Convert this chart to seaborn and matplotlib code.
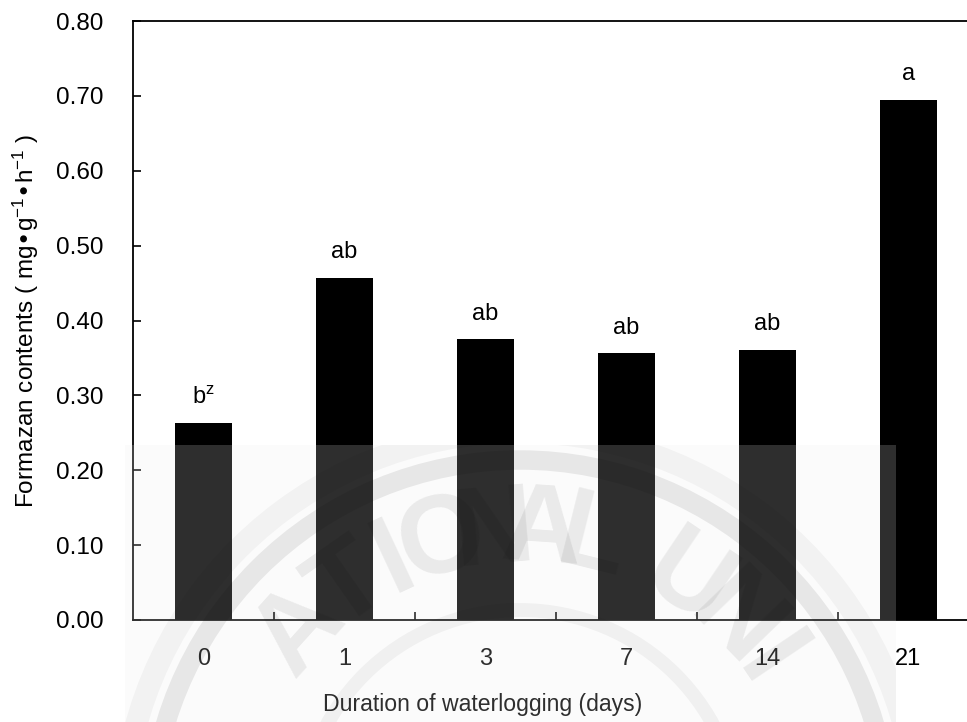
import numpy as np
import pandas as pd
import seaborn as sns
import matplotlib.pyplot as plt
from matplotlib.patches import Rectangle, Circle
from matplotlib.transforms import Bbox, TransformedBbox
from matplotlib.ticker import FixedLocator, FormatStrFormatter

# Formazan contents after each waterlogging duration
days = ["0", "1", "3", "7", "14", "21"]
formazan = [0.263, 0.457, 0.375, 0.356, 0.361, 0.695]
groups = ["b$^{z}$", "ab", "ab", "ab", "ab", "a"]
y_ticks = [0.0, 0.1, 0.2, 0.3, 0.4, 0.5, 0.6, 0.7, 0.8]

sns.set_theme(style="ticks")
plt.rcParams["font.family"] = ["Liberation Sans", "DejaVu Sans"]
plt.rcParams["mathtext.default"] = "regular"

W, H = 967, 722
fig = plt.figure(figsize=(W / 100, H / 100), dpi=100)
ax = fig.add_axes([133 / W, 1 - 620 / H, 846 / W, 599 / H])

df = pd.DataFrame({"day": days, "formazan": formazan})
sns.barplot(data=df, x="day", y="formazan", order=days, color="black",
            saturation=1, width=0.41, linewidth=0, errorbar=None, ax=ax)

ax.set_xlim(-0.5, 5.5)
ax.set_ylim(0, 0.8)
ax.yaxis.set_major_locator(FixedLocator(y_ticks))
ax.yaxis.set_major_formatter(FormatStrFormatter("%.2f"))
ax.xaxis.set_minor_locator(FixedLocator(np.arange(0.5, 5.5, 1.0)))

for side in ["left", "top", "bottom"]:
    ax.spines[side].set_color("black")
    ax.spines[side].set_linewidth(1.3)
ax.spines["right"].set_visible(False)

ax.tick_params(axis="y", direction="in", length=6, width=1.2, pad=21,
               labelsize=17.5, colors="black")
ax.tick_params(axis="x", which="major", length=0, pad=20, labelsize=17,
               colors="black")
ax.tick_params(axis="x", which="minor", direction="in", length=6, width=1.2,
               color="black")

ax.set_xlabel("Duration of waterlogging (days)", fontsize=16.6, color="black")
ax.xaxis.set_label_coords((483 - 133) / 846, -(693 - 620) / 599)
ax.xaxis.label.set_va("top")
ax.set_ylabel("Formazan contents ( mg•g$^{-1}$•h$^{-1}$ )", fontsize=17.5,
              labelpad=11, color="black")

# Significance letters above each bar
for bar, lab in zip(ax.patches, groups):
    ax.annotate(lab, xy=(bar.get_x() + bar.get_width() / 2, bar.get_height()),
                xytext=(0, 14), textcoords="offset points", ha="center",
                va="baseline", fontsize=17, color="black")

# Library seal stamped over the lower part of the page
x0, x1, ytop = 125 / W, 896 / W, 1 - 445 / H
veil = Rectangle((x0, 0), x1 - x0, ytop, transform=fig.transFigure,
                 facecolor=(235 / 255,) * 3, edgecolor="none", alpha=0.2,
                 zorder=20)
fig.add_artist(veil)
clip = TransformedBbox(Bbox([[x0, 0], [x1, ytop]]), fig.transFigure)

cx, cy = 5.20, (H - 830) / 100  # seal centre in inches
for r, lw, a in [(3.98, 16, 0.035), (3.70, 14, 0.08), (2.20, 10, 0.045)]:
    ring = Circle((cx, cy), r, transform=fig.dpi_scale_trans, fill=False,
                  edgecolor="black", linewidth=lw, alpha=a, zorder=21)
    fig.add_artist(ring)
    ring.set_clip_box(clip)

seal_text = "ATIONALUNI"
seal_angles = [-48, -35, -25, -15, -5, 4, 14, 34, 46, 56]
for ch, ang in zip(seal_text, seal_angles):
    t = np.deg2rad(ang)
    txt = fig.text(cx + 2.98 * np.sin(t), cy + 2.98 * np.cos(t), ch,
                   transform=fig.dpi_scale_trans, rotation=-ang,
                   rotation_mode="anchor", ha="center", va="center",
                   fontsize=80, fontweight="bold",
                   family=["Liberation Sans Narrow", "Liberation Sans"],
                   color="black", alpha=0.07, zorder=22)
    txt.set_clip_box(clip)
    txt.set_clip_on(True)

fig.savefig("out.png", dpi=100)
